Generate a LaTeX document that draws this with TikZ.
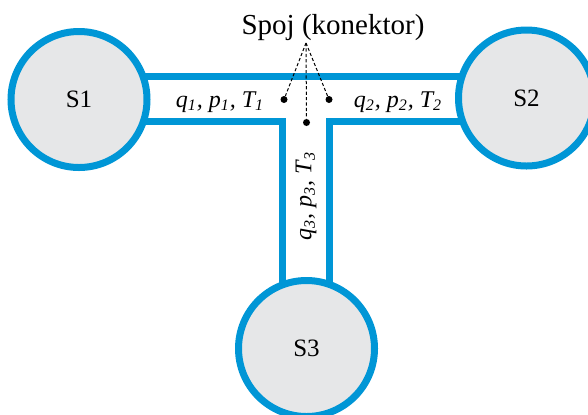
\documentclass[tikz,border=0pt]{standalone}
\usepackage{fontspec}
\setmainfont{Liberation Serif}
\definecolor{pipeblue}{RGB}{0,150,214}
\definecolor{tankgray}{RGB}{230,231,232}
\begin{document}
\begin{tikzpicture}[x=0.5pt,y=-0.5pt,
  tank/.style={circle,draw=pipeblue,fill=tankgray,line width=3.5pt,minimum size=68pt,inner sep=0pt,font=\fontsize{12.5}{14}\selectfont},
  pipe/.style={draw=pipeblue,fill=white,line width=3.5pt,line join=miter},
  var/.style={font=\fontsize{12}{14}\selectfont\itshape,inner sep=0pt},
  dotmark/.style={circle,fill=black,inner sep=0pt,minimum size=3.5pt},
  lead/.style={dashed,dash pattern=on 1.6pt off 1.1pt,line width=0.5pt}]
\useasboundingbox (0,0) rectangle (588,414);
\clip (0,0) rectangle (588,414);
% pipes (T shape)
\path[pipe] (110,76) -- (490,76) -- (490,121) -- (329,121) -- (329,320) -- (282,320) -- (282,121) -- (110,121) -- cycle;
% tanks
\node[tank] (s1) at (79,99.5) {S1};
\node[tank] (s2) at (526.5,98) {S2};
\node[tank] (s3) at (306.5,348.5) {S3};
% variables
\node[var] (v1) at (220,102) {q\textsubscript{1}, p\textsubscript{1}, T\textsubscript{1}};
\node[var] (v2) at (398,102) {q\textsubscript{2}, p\textsubscript{2}, T\textsubscript{2}};
\node[var,rotate=90] (v3) at (306,196) {q\textsubscript{3}, p\textsubscript{3}, T\textsubscript{3}};
% connector label
\node[font=\fontsize{14.5}{17}\selectfont,inner sep=0pt] (lbl) at (333,28) {Spoj (konektor)};
\coordinate (apex) at (306,43);
\node[dotmark] (d1) at (284,99.5) {};
\node[dotmark] (d2) at (329,99.5) {};
\node[dotmark] (d3) at (306.5,122.5) {};
\draw[lead] (apex) -- (d1);
\draw[lead] (apex) -- (d2);
\draw[lead] (apex) -- (d3);
\end{tikzpicture}
\end{document}
